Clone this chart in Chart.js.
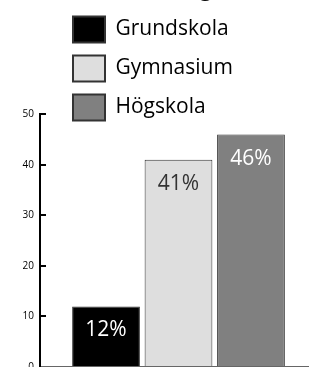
<!DOCTYPE html>
<html>
<head>
<meta charset="utf-8">
<script src="https://cdn.jsdelivr.net/npm/chart.js@4.4.0/dist/chart.umd.min.js"></script>
<style>
  body { margin: 0; overflow: hidden; background: #fff; width: 309px; height: 367px; position: relative; }
  #chart { position: absolute; left: 0; top: -23px; }
</style>
</head>
<body>
<canvas id="chart" width="317" height="408"></canvas>
<script>
const titleText = 'Utbildning';
const categories = [''];
const seriesNames = ['Grundskola', 'Gymnasium', 'Högskola'];
const grundskola = [12];
const gymnasium = [41];
const hogskola = [46];
const seriesColors = ['#000000', '#dedede', '#808080'];
const labelColors = ['#ffffff', '#333333', '#ffffff'];
const yTicks = [0, 10, 20, 30, 40, 50];

const font = 'Open Sans';

// percent labels inside the top of each bar
const valueLabels = {
    id: 'valueLabels',
    afterDatasetsDraw(chart) {
        const ctx = chart.ctx;
        ctx.save();
        ctx.font = '21px "' + font + '"';
        ctx.textAlign = 'center';
        ctx.textBaseline = 'middle';
        chart.data.datasets.forEach((ds, i) => {
            chart.getDatasetMeta(i).data.forEach((bar, j) => {
                ctx.fillStyle = labelColors[i];
                ctx.fillText(ds.data[j] + '%', bar.x, bar.y + 24);
            });
        });
        ctx.restore();
    }
};

// legend sits over the left part of the plot, stacked
const legendSpot = {
    id: 'legendSpot',
    afterLayout(chart) {
        chart.legend.left = 60;
        chart.legend.bottom = chart.legend.top + 130;
    }
};

const allData = [grundskola, gymnasium, hogskola];

new Chart(document.getElementById('chart'), {
    type: 'bar',
    data: {
        labels: categories,
        datasets: seriesNames.map((name, i) => ({
            label: name,
            data: allData[i],
            backgroundColor: seriesColors[i],
            borderColor: '#333333',
            borderWidth: 1,
            categoryPercentage: 0.785,
            barPercentage: 0.935
        }))
    },
    options: {
        responsive: false,
        animation: false,
        layout: { padding: 0 },
        plugins: {
            title: {
                display: true,
                text: titleText,
                color: '#000',
                font: { family: font, size: 22, weight: 'normal' },
                padding: 0
            },
            legend: {
                position: 'top',
                align: 'start',
                maxHeight: 111,
                labels: {
                    boxWidth: 32,
                    boxHeight: 26,
                    padding: 13,
                    color: '#000',
                    font: { family: font, size: 21 },
                    generateLabels: chart => Chart.defaults.plugins.legend.labels.generateLabels(chart)
                        .map(l => Object.assign(l, { lineWidth: 2 }))
                }
            },
            tooltip: { enabled: false }
        },
        scales: {
            x: {
                grid: { drawOnChartArea: false, drawTicks: false },
                border: { color: '#666', width: 2 },
                ticks: { display: false },
                afterFit: s => { s.height = 9; }
            },
            y: {
                min: yTicks[0],
                max: yTicks[yTicks.length - 1],
                afterBuildTicks: s => { s.ticks = yTicks.map(v => ({ value: v })); },
                ticks: { padding: 12, color: '#000', font: { family: font, size: 10 } },
                grid: { drawOnChartArea: false, tickLength: -6, color: '#000', lineWidth: 2 },
                border: { color: '#000', width: 2 },
                afterFit: s => { s.width = 40; }
            }
        }
    },
    plugins: [valueLabels, legendSpot]
});
</script>
</body>
</html>
